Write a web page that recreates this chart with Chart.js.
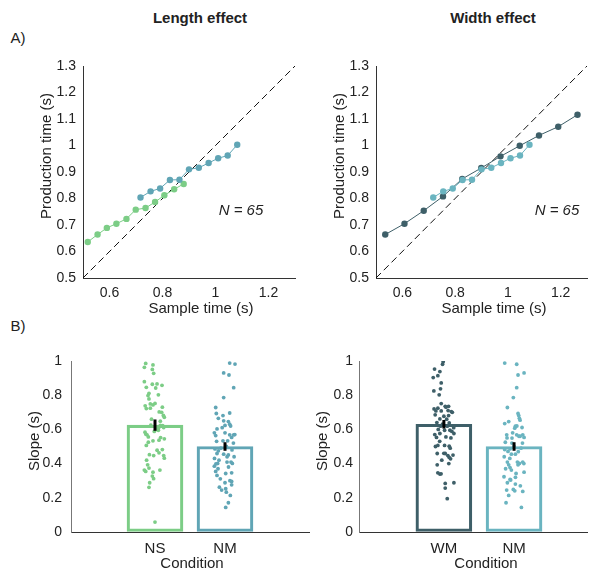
<!DOCTYPE html>
<html lang="en">
<head>
<meta charset="UTF-8">
<title>Length and width effect</title>
<script src="https://cdn.jsdelivr.net/npm/chart.js"></script>
<style>
    body { margin: 0; background: #fff; }
    #page {
        position: relative;
        width: 593px;
        height: 571px;
        font-family: 'Liberation Sans', Arial, sans-serif;
        color: #222;
        overflow: hidden;
    }
    canvas { position: absolute; }
    .lbl {
        position: absolute;
        transform: translate(-50%, -50%);
        white-space: nowrap;
        font-size: 15px;
    }
    .vert { transform: translate(-50%, -50%) rotate(-90deg); }
    .title { font-weight: bold; font-size: 15px; }
    .panel { font-size: 15px; }
    .nlab { font-style: italic; font-size: 15px; }
</style>
</head>
<body>
<div id="page">
    <canvas id="lenLine" style="left:0;top:50px" width="305" height="250"></canvas>
    <canvas id="widLine" style="left:300px;top:50px" width="300" height="250"></canvas>
    <canvas id="lenBar" style="left:0;top:340px" width="320" height="222"></canvas>
    <canvas id="widBar" style="left:300px;top:340px" width="293" height="222"></canvas>

    <div class="lbl title" style="left:200px;top:17px">Length effect</div>
    <div class="lbl title" style="left:493px;top:17px">Width effect</div>
    <div class="lbl panel" style="left:18px;top:37px">A)</div>
    <div class="lbl panel" style="left:18px;top:325px">B)</div>

    <div class="lbl vert" style="left:45px;top:156px">Production time (s)</div>
    <div class="lbl" style="left:201px;top:307px">Sample time (s)</div>
    <div class="lbl vert" style="left:338px;top:156px">Production time (s)</div>
    <div class="lbl" style="left:494px;top:307px">Sample time (s)</div>
    <div class="lbl nlab" style="left:241px;top:209px">N = 65</div>
    <div class="lbl nlab" style="left:557px;top:209px">N = 65</div>

    <div class="lbl vert" style="left:33px;top:441px">Slope (s)</div>
    <div class="lbl" style="left:192px;top:562px">Condition</div>
    <div class="lbl vert" style="left:321px;top:441px">Slope (s)</div>
    <div class="lbl" style="left:486px;top:562px">Condition</div>
</div>

<script>
    // ---- data ----
    const sampleNS = [0.518, 0.555, 0.590, 0.626, 0.664, 0.699, 0.736, 0.772, 0.807, 0.844, 0.880];
    const prodNS   = [0.636, 0.664, 0.689, 0.705, 0.723, 0.758, 0.764, 0.787, 0.812, 0.835, 0.855];
    const sampleNM = [0.717, 0.755, 0.791, 0.828, 0.864, 0.900, 0.937, 0.974, 1.010, 1.046, 1.082];
    const prodNM   = [0.804, 0.827, 0.838, 0.870, 0.871, 0.910, 0.916, 0.934, 0.952, 0.962, 1.003];
    const sampleWM = [0.535, 0.608, 0.681, 0.754, 0.827, 0.899, 0.972, 1.045, 1.118, 1.191, 1.264];
    const prodWM   = [0.664, 0.705, 0.754, 0.808, 0.874, 0.915, 0.959, 0.999, 1.038, 1.071, 1.116];

    const timeTicksY = [0.5, 0.6, 0.7, 0.8, 0.9, 1, 1.1, 1.2, 1.3];
    const timeTicksX = [0.6, 0.8, 1, 1.2];
    const slopeTicks = [0, 0.2, 0.4, 0.6, 0.8, 1];

    const lenConds = ['NS', 'NM'];
    const lenMean  = [0.625, 0.500];
    const lenSem   = [0.033, 0.025];
    const widConds = ['WM', 'NM'];
    const widMean  = [0.630, 0.500];
    const widSem   = [0.025, 0.025];

    // per-participant slopes and their horizontal jitter (as drawn)
    const slopeNS = [0.986, 0.963, 0.977, 0.951, 0.928, 0.879, 0.846, 0.864, 0.866, 0.842, 0.811, 0.802, 0.778,
        0.749, 0.743, 0.722, 0.724, 0.730, 0.700, 0.671, 0.648, 0.623, 0.611, 0.607, 0.584, 0.568, 0.556, 0.588,
        0.595, 0.545, 0.537, 0.533, 0.525, 0.506, 0.482, 0.463, 0.447, 0.447, 0.432, 0.393, 0.374, 0.362, 0.354,
        0.350, 0.327, 0.288, 0.261, 0.058, 0.600, 0.625, 0.622, 0.572, 0.552, 0.660, 0.702, 0.798, 0.752, 0.738,
        0.858, 0.452, 0.478, 0.420, 0.362, 0.312, 0.682];
    const jitterNS = [-0.133, -0.152, -0.029, -0.038, -0.019, -0.152, -0.124, -0.038, 0.029, 0.010, -0.086, 0.048, -0.086,
        -0.067, -0.029, -0.124, -0.067, 0.105, 0.095, 0.133, 0.076, 0.076, 0.124, 0.048, -0.143, -0.114, -0.095, -0.010,
        0.048, 0.133, 0.057, -0.029, -0.095, -0.124, 0.105, 0.057, -0.019, 0.124, 0.133, -0.105, -0.086, -0.152, -0.133,
        -0.029, -0.038, -0.076, -0.086, 0.000, 0.020, -0.060, 0.110, -0.130, 0.080, -0.050, 0.060, -0.100, 0.000, -0.140,
        0.100, -0.080, 0.030, -0.120, 0.070, -0.020, 0.120];

    const slopeNM = [0.988, 0.982, 0.930, 0.918, 0.844, 0.786, 0.728, 0.693, 0.696, 0.681, 0.665, 0.650, 0.646,
        0.630, 0.623, 0.603, 0.580, 0.564, 0.568, 0.568, 0.553, 0.533, 0.533, 0.486, 0.475, 0.459, 0.455, 0.451,
        0.420, 0.409, 0.409, 0.401, 0.385, 0.401, 0.354, 0.331, 0.342, 0.346, 0.311, 0.288, 0.296, 0.276, 0.245,
        0.253, 0.233, 0.214, 0.171, 0.144, 0.500, 0.490, 0.480, 0.440, 0.430, 0.380, 0.370, 0.520, 0.530, 0.580,
        0.620, 0.610, 0.570, 0.262, 0.300, 0.398, 0.440];
    const jitterNM = [0.067, 0.143, -0.019, 0.057, 0.124, -0.019, -0.133, -0.124, 0.067, -0.029, -0.095, -0.019, 0.048,
        0.067, 0.000, -0.114, -0.152, -0.133, 0.067, 0.124, 0.095, 0.038, -0.029, -0.143, -0.095, -0.114, -0.019, 0.048,
        -0.086, 0.029, 0.086, 0.105, -0.152, -0.105, -0.133, -0.114, 0.010, 0.095, -0.067, 0.000, 0.095, 0.095, -0.048,
        0.010, 0.019, 0.076, 0.048, 0.010, 0.020, -0.060, 0.100, 0.130, -0.150, 0.050, -0.100, 0.120, -0.120, 0.000,
        0.080, -0.040, 0.140, -0.080, 0.070, -0.130, 0.030];

    const slopeWM = [0.996, 0.981, 0.953, 0.938, 0.914, 0.903, 0.872, 0.837, 0.825, 0.802, 0.751, 0.724, 0.735,
        0.735, 0.708, 0.708, 0.704, 0.685, 0.677, 0.681, 0.661, 0.638, 0.619, 0.619, 0.588, 0.576, 0.576, 0.595,
        0.556, 0.553, 0.595, 0.506, 0.506, 0.502, 0.459, 0.459, 0.447, 0.436, 0.428, 0.393, 0.346, 0.339, 0.284,
        0.288, 0.257, 0.195, 0.630, 0.700, 0.720, 0.660, 0.600, 0.550, 0.500, 0.460, 0.450, 0.420, 0.710, 0.640,
        0.610, 0.530, 0.490, 0.730, 0.570, 0.400, 0.340];
    const jitterWM = [-0.010, -0.019, -0.133, -0.057, -0.086, -0.152, -0.038, -0.048, -0.143, -0.067, -0.038, -0.086, 0.019,
        0.067, -0.114, -0.038, 0.105, -0.124, 0.000, 0.067, -0.057, 0.076, -0.048, 0.048, 0.114, 0.143, -0.057, 0.086,
        0.029, -0.105, 0.010, -0.086, 0.010, 0.076, -0.095, 0.019, 0.057, 0.076, 0.095, -0.095, -0.086, -0.057, 0.019,
        0.143, 0.019, 0.048, -0.020, 0.120, -0.140, 0.040, -0.080, 0.100, -0.120, 0.000, 0.130, -0.030, 0.060, -0.100,
        0.140, -0.060, 0.090, 0.030, -0.130, 0.070, -0.040];

    const slopeNM2 = [0.988, 0.981, 0.918, 0.930, 0.844, 0.786, 0.728, 0.693, 0.681, 0.665, 0.654, 0.634, 0.646,
        0.619, 0.611, 0.607, 0.568, 0.549, 0.568, 0.560, 0.568, 0.553, 0.525, 0.482, 0.471, 0.486, 0.455, 0.455,
        0.409, 0.393, 0.409, 0.401, 0.409, 0.393, 0.377, 0.362, 0.342, 0.350, 0.323, 0.304, 0.288, 0.307, 0.280,
        0.249, 0.245, 0.241, 0.237, 0.214, 0.171, 0.144, 0.500, 0.490, 0.440, 0.470, 0.580, 0.520, 0.550, 0.620,
        0.430, 0.400, 0.370, 0.320, 0.270, 0.520, 0.560];
    const jitterNM2 = [-0.133, 0.038, 0.057, 0.143, 0.038, -0.010, -0.095, 0.057, 0.067, 0.076, 0.086, -0.133, -0.076,
        0.019, 0.114, 0.010, -0.105, -0.029, 0.038, 0.086, 0.124, 0.143, -0.124, -0.133, -0.086, -0.057, 0.019, -0.038,
        -0.095, -0.076, 0.048, 0.076, 0.124, 0.057, -0.057, -0.038, 0.029, 0.143, -0.143, -0.048, -0.095, -0.057, 0.019,
        -0.010, -0.105, 0.010, 0.124, -0.076, -0.114, 0.105, 0.000, 0.100, -0.140, 0.060, -0.020, 0.120, -0.100, 0.040,
        -0.060, 0.140, -0.120, 0.020, 0.090, -0.030, 0.070];

    // ---- colours ----
    const cNS = '#7ccd86';
    const cNMlen = '#60a5b5';
    const cNMwid = '#6ab4c0';
    const cWM = '#3e5f68';
    const axisColor = '#333';
    const fontFamily = "'Liberation Sans', Arial, sans-serif";

    const xy = (xs, ys) => xs.map((x, i) => ({ x: x, y: ys[i] }));

    function fixedTicks(values) {
        return scale => { scale.ticks = values.map(v => ({ value: v })); };
    }
    const plainLabel = v => String(v);

    function lineSeries(xs, ys, color) {
        return {
            type: 'scatter',
            data: xy(xs, ys),
            showLine: true,
            borderColor: color,
            backgroundColor: color,
            borderWidth: 1,
            pointRadius: 3.2,
            pointBorderWidth: 0
        };
    }

    function timeChart(id, series, yWidth, padRight) {
        new Chart(document.getElementById(id), {
            type: 'scatter',
            data: {
                datasets: series.concat([{
                    type: 'line',
                    data: [{ x: 0.5, y: 0.5 }, { x: 1.3, y: 1.3 }],
                    borderColor: '#111',
                    borderWidth: 1,
                    borderDash: [7, 4],
                    pointRadius: 0
                }])
            },
            options: {
                responsive: false,
                animation: false,
                events: [],
                layout: { padding: { top: 16, right: padRight, left: 0, bottom: 0 } },
                plugins: { legend: { display: false }, tooltip: { enabled: false } },
                scales: {
                    x: {
                        type: 'linear', min: 0.5, max: 1.3,
                        afterBuildTicks: fixedTicks(timeTicksX),
                        afterFit: s => { s.height = 22; },
                        grid: { drawOnChartArea: false, drawTicks: false },
                        border: { color: axisColor, width: 1 },
                        ticks: { color: '#222', padding: 7, callback: plainLabel, font: { family: fontFamily, size: 14 } }
                    },
                    y: {
                        type: 'linear', min: 0.5, max: 1.3,
                        afterBuildTicks: fixedTicks(timeTicksY),
                        afterFit: s => { s.width = yWidth; },
                        grid: { drawOnChartArea: false, drawTicks: false },
                        border: { color: axisColor, width: 1 },
                        ticks: { color: '#222', padding: 7, callback: plainLabel, font: { family: fontFamily, size: 14 } }
                    }
                }
            }
        });
    }

    timeChart('lenLine', [
        lineSeries(sampleNM, prodNM, cNMlen),
        lineSeries(sampleNS, prodNS, cNS)
    ], 83, 10);

    timeChart('widLine', [
        lineSeries(sampleNM, prodNM, cNMwid),
        lineSeries(sampleWM, prodWM, cWM)
    ], 76, 13);

    function slopeChart(id, conds, means, sems, groups, colors, xMin, xMax, yWidth, padRight, labelGap) {
        const datasets = [];
        means.forEach((m, i) => {
            datasets.push({
                type: 'line',
                data: [{ x: i + 1, y: m - sems[i] }, { x: i + 1, y: m + sems[i] }],
                borderColor: '#000',
                borderWidth: 3,
                pointRadius: 0,
                order: 0
            });
        });
        groups.forEach((g, i) => {
            datasets.push({
                type: 'scatter',
                data: g.slopes.map((v, k) => ({ x: i + 1 + g.jitter[k], y: v })),
                backgroundColor: colors[i],
                pointRadius: 1.9,
                pointBorderWidth: 0,
                order: 1
            });
        });
        datasets.push({
            type: 'bar',
            data: means.map((m, i) => ({ x: i + 1, y: m })),
            backgroundColor: 'rgba(255,255,255,0)',
            borderColor: colors,
            borderWidth: 2.5,
            borderSkipped: false,
            barThickness: 56,
            order: 2
        });

        new Chart(document.getElementById(id), {
            type: 'bar',
            data: { datasets: datasets },
            options: {
                responsive: false,
                animation: false,
                events: [],
                layout: { padding: { top: 21, right: padRight, left: 0, bottom: 0 } },
                plugins: { legend: { display: false }, tooltip: { enabled: false } },
                scales: {
                    x: {
                        type: 'linear', min: xMin, max: xMax, offset: false,
                        afterBuildTicks: fixedTicks([1, 2]),
                        afterFit: s => { s.height = 30; },
                        grid: { drawOnChartArea: false, drawTicks: false },
                        border: { color: axisColor, width: 1 },
                        ticks: {
                            color: '#222', padding: 8,
                            font: { family: fontFamily, size: 15 },
                            callback: v => conds[v - 1]
                        }
                    },
                    y: {
                        type: 'linear', min: 0, max: 1,
                        afterBuildTicks: fixedTicks(slopeTicks),
                        afterFit: s => { s.width = yWidth; },
                        grid: { drawOnChartArea: false, drawTicks: false },
                        border: { color: '#777', width: 1 },
                        ticks: { color: '#222', padding: labelGap, callback: plainLabel, font: { family: fontFamily, size: 14 } }
                    }
                }
            }
        });
    }

    slopeChart('lenBar', lenConds, lenMean, lenSem,
        [{ slopes: slopeNS, jitter: jitterNS }, { slopes: slopeNM, jitter: jitterNM }],
        [cNS, cNMlen], -0.2, 3.2, 71, 11, 9);

    slopeChart('widBar', widConds, widMean, widSem,
        [{ slopes: slopeWM, jitter: jitterWM }, { slopes: slopeNM2, jitter: jitterNM2 }],
        [cWM, cNMwid], -0.21, 3.04, 59, 6, 6);
</script>
</body>
</html>
